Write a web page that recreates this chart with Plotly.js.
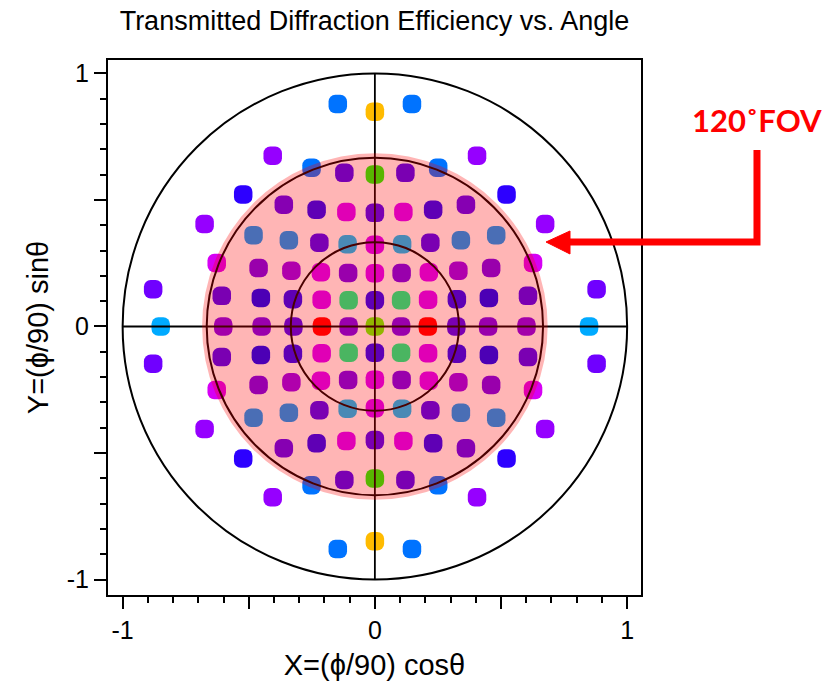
<!DOCTYPE html>
<html>
<head>
<meta charset="utf-8">
<script src="https://cdn.plot.ly/plotly-3.0.1.min.js"></script>
<style>
  html, body { margin: 0; padding: 0; background: #fff; }
  #chart { width: 828px; height: 686px; }
  .scatterlayer path.point { stroke-linejoin: round !important; }
</style>
</head>
<body>
<div id="chart"></div>
<script>
// Positions of the diffraction orders, X=(phi/90)cos(theta), Y=(phi/90)sin(theta) (top to bottom)
const xPos = [
  -0.147, 0, 0.147,
  -0.405, -0.251, -0.121, 0, 0.121, 0.251, 0.405,
  -0.522, -0.361, -0.231, -0.113, 0, 0.113, 0.231, 0.361, 0.522,
  -0.675, -0.481, -0.341, -0.220, -0.108, 0, 0.108, 0.220, 0.341, 0.481, 0.675,
  -0.627, -0.461, -0.331, -0.214, -0.106, 0, 0.106, 0.214, 0.331, 0.461, 0.627,
  -0.879, -0.607, -0.452, -0.325, -0.211, -0.104, 0, 0.104, 0.211, 0.325, 0.452, 0.607, 0.879,
  -0.849, -0.601, -0.449, -0.323, -0.210, -0.104, 0, 0.104, 0.210, 0.323, 0.449, 0.601, 0.849,
  -0.879, -0.607, -0.452, -0.325, -0.211, -0.104, 0, 0.104, 0.211, 0.325, 0.452, 0.607, 0.879,
  -0.627, -0.461, -0.331, -0.214, -0.106, 0, 0.106, 0.214, 0.331, 0.461, 0.627,
  -0.675, -0.481, -0.341, -0.220, -0.108, 0, 0.108, 0.220, 0.341, 0.481, 0.675,
  -0.522, -0.361, -0.231, -0.113, 0, 0.113, 0.231, 0.361, 0.522,
  -0.405, -0.251, -0.121, 0, 0.121, 0.251, 0.405,
  -0.147, 0, 0.147
];
const yPos = [
  0.879, 0.849, 0.879,
  0.675, 0.627, 0.607, 0.601, 0.607, 0.627, 0.675,
  0.522, 0.481, 0.461, 0.452, 0.449, 0.452, 0.461, 0.481, 0.522,
  0.405, 0.361, 0.341, 0.331, 0.325, 0.323, 0.325, 0.331, 0.341, 0.361, 0.405,
  0.251, 0.231, 0.220, 0.214, 0.211, 0.210, 0.211, 0.214, 0.220, 0.231, 0.251,
  0.147, 0.121, 0.113, 0.108, 0.106, 0.104, 0.104, 0.104, 0.106, 0.108, 0.113, 0.121, 0.147,
  0, 0, 0, 0, 0, 0, 0, 0, 0, 0, 0, 0, 0,
  -0.147, -0.121, -0.113, -0.108, -0.106, -0.104, -0.104, -0.104, -0.106, -0.108, -0.113, -0.121, -0.147,
  -0.251, -0.231, -0.220, -0.214, -0.211, -0.210, -0.211, -0.214, -0.220, -0.231, -0.251,
  -0.405, -0.361, -0.341, -0.331, -0.325, -0.323, -0.325, -0.331, -0.341, -0.361, -0.405,
  -0.522, -0.481, -0.461, -0.452, -0.449, -0.452, -0.461, -0.481, -0.522,
  -0.675, -0.627, -0.607, -0.601, -0.607, -0.627, -0.675,
  -0.879, -0.849, -0.879
];
// Efficiency class of each order (colour code), same order as the positions
const effClass = [
  'B','Y','B',
  'V','B','K','H','K','B','V',
  'D','U','I','M','K','M','I','U','D',
  'V','S','S','K','T','M','T','K','S','S','V',
  'N','P','Q','M','P','M','P','M','Q','P','N',
  'W','K','J','I','M','G','I','G','M','I','J','K','W',
  'C','A','P','K','R','P','L','P','R','K','P','A','C',
  'W','K','J','I','M','G','I','G','M','I','J','K','W',
  'N','P','Q','M','P','M','P','M','Q','P','N',
  'V','S','S','K','T','M','T','K','S','S','V',
  'D','U','I','M','K','M','I','U','D',
  'V','B','K','H','K','B','V',
  'B','Y','B'
];
const fovLabel = '120\u02DAFOV';
const chartTitle = 'Transmitted Diffraction Efficiency vs. Angle';
const xTitle = 'X=(\u03D5/90) cos\u03B8';
const yTitle = 'Y=(\u03D5/90) sin\u03B8';
const tickVals = [-1, -0.5, 0, 0.5, 1];
const tickText = ['-1', '', '0', '', '1'];
const ringRadii = [1, 2/3, 1/3];
const fovRadius = 0.685;

const palette = {
  Y:'#FFBB00', B:'#0073FF', V:'#9600FF', D:'#2D00FF', W:'#7000FF', C:'#00AAFF',
  M:'#D400FF', N:'#D600F5', P:'#7000F3', A:'#7E00F0', Q:'#9000F3', R:'#FF0000',
  G:'#00FF89', H:'#14FF00', L:'#66FF00', I:'#1E00FF', J:'#0400FF', K:'#4400FB',
  S:'#009CFF', T:'#00C2FF', U:'#5500FB'
};
const colors = effClass.map(c => palette[c]);

const FONT = 'Liberation Sans, Arial, sans-serif';

const trace = {
  type: 'scatter', mode: 'markers', x: xPos, y: yPos, hoverinfo: 'skip',
  marker: { symbol: 'square', size: 5, color: colors, line: { color: colors, width: 13.5 } }
};

const shapes = [];
ringRadii.forEach(r => shapes.push({
  type: 'circle', xref: 'x', yref: 'y', x0: -r, x1: r, y0: -r, y1: r,
  line: { color: '#000', width: 2 }, layer: 'above'
}));
shapes.push({ type: 'line', xref: 'x', yref: 'y', x0: -1, x1: 1, y0: 0, y1: 0, line: { color: '#000', width: 1.8 }, layer: 'above' });
shapes.push({ type: 'line', xref: 'x', yref: 'y', x0: 0, x1: 0, y0: -1, y1: 1, line: { color: '#000', width: 1.8 }, layer: 'above' });
shapes.push({
  type: 'circle', xref: 'x', yref: 'y', x0: -fovRadius, x1: fovRadius, y0: -fovRadius, y1: fovRadius,
  fillcolor: 'rgba(255,0,0,0.29)', line: { width: 0 }, layer: 'above'
});
// red L-shaped arrow (paper coords)
shapes.push({
  type: 'path', xref: 'paper', yref: 'paper',
  path: 'M 1.2176 0.8318 L 1.2176 0.6598 L 0.8649 0.6598',
  line: { color: '#FF0000', width: 7 }
});
shapes.push({
  type: 'path', xref: 'paper', yref: 'paper',
  path: 'M 0.8218 0.6598 L 0.8668 0.6804 L 0.8668 0.6374 Z',
  fillcolor: '#FF0000', line: { color: '#FF0000', width: 1 }
});

const axisCommon = {
  showline: true, mirror: true, linecolor: '#000', linewidth: 2,
  showgrid: false, zeroline: false,
  tickmode: 'array', tickvals: tickVals, ticktext: tickText,
  ticks: 'outside', ticklen: 12, tickwidth: 2, tickcolor: '#000',
  minor: { tick0: 0, dtick: 0.1, ticks: 'outside', ticklen: 6, tickwidth: 2, tickcolor: '#000', showgrid: false },
  tickfont: { family: FONT, size: 25, color: '#000' },
  fixedrange: true
};

const layout = {
  width: 828, height: 686,
  margin: { l: 108, r: 187, t: 60, b: 91 },
  paper_bgcolor: '#fff', plot_bgcolor: '#fff',
  showlegend: false,
  title: { text: chartTitle, x: 0.5, xref: 'paper', xanchor: 'center', y: 1 - 21/686, yref: 'container', yanchor: 'middle',
           font: { family: FONT, size: 27, color: '#000' } },
  xaxis: Object.assign({}, axisCommon, { range: [-1.058, 1.055],
           title: { text: xTitle, font: { family: FONT, size: 29, color: '#000' }, standoff: 12 } }),
  yaxis: Object.assign({}, axisCommon, { range: [-1.061, 1.053],
           title: { text: yTitle, font: { family: FONT, size: 29, color: '#000' }, standoff: 10 } }),
  shapes: shapes,
  annotations: [{
    text: fovLabel, xref: 'paper', yref: 'paper', x: 1.2167, y: 0.888, xanchor: 'center', yanchor: 'middle',
    showarrow: false, font: { family: 'Lato, Open Sans, sans-serif', size: 31, color: '#FF0000', weight: 700 }
  }]
};

Plotly.newPlot('chart', [trace], layout, { staticPlot: true, displayModeBar: false }).then(gd => {
  gd.querySelectorAll('path.point').forEach(p => { p.style.strokeLinejoin = 'round'; });
});
</script>
</body>
</html>
